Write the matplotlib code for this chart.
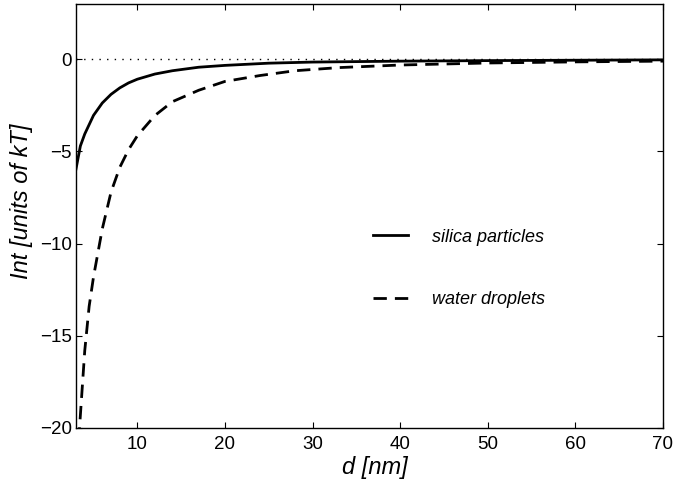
import matplotlib
matplotlib.use('Agg')
import matplotlib.pyplot as plt

# values
d_silica = [3, 3.5, 4, 5, 6, 7, 8, 9, 10, 12, 14, 17, 20, 25, 30, 40, 50, 60, 70]
int_silica = [-5.95, -4.7, -4.05, -3.04, -2.37, -1.9, -1.55, -1.28, -1.08, -0.8,
              -0.62, -0.43, -0.33, -0.21, -0.15, -0.1, -0.07, -0.05, -0.03]

d_water = [3, 3.4, 4, 4.5, 5, 6, 7, 8, 9, 10, 12, 14, 17, 20, 24, 28, 33, 40, 50, 60, 70]
int_water = [-23, -20, -15.8, -13.4, -11.8, -9.2, -7.2, -5.86, -4.9, -4.15, -3.05,
             -2.3, -1.68, -1.2, -0.88, -0.62, -0.45, -0.31, -0.2, -0.14, -0.1]

x_ticks = [10, 20, 30, 40, 50, 60, 70]
y_ticks = [-20, -15, -10, -5, 0]

plt.rcParams['font.family'] = ['Liberation Sans', 'DejaVu Sans']

fig = plt.figure(figsize=(6.74, 4.87), dpi=100)
ax = fig.add_axes([76 / 674, 59 / 487, 587 / 674, 424 / 487])

# zero reference line
ax.axhline(0, color='black', lw=1.0, linestyle=(0, (1, 4.5)))

ax.plot(d_silica, int_silica, color='black', lw=2, label='silica particles')
ax.plot(d_water, int_water, color='black', lw=2, linestyle=(0, (4.8, 2.9)),
        label='water droplets')

ax.set_xlim(3, 70)
ax.set_ylim(-20, 3)
ax.set_xticks(x_ticks)
ax.set_yticks(y_ticks)

ax.tick_params(direction='in', top=True, right=True, length=4.5, width=0.8,
               labelsize=13.5)
ax.tick_params(axis='x', pad=6)
ax.tick_params(axis='y', pad=3)
for s in ax.spines.values():
    s.set_linewidth(1.0)

ax.set_xlabel('d [nm]', fontsize=17, style='italic')
ax.set_ylabel('Int [units of kT]', fontsize=17, style='italic')
ax.xaxis.set_label_coords(0.51, -0.065)
ax.yaxis.set_label_coords(-0.073, 0.535)

ax.legend(loc='upper left', bbox_to_anchor=(0.506, 0.47), frameon=False,
          prop={'size': 13, 'style': 'italic'}, handlelength=1.95,
          handletextpad=1.3, labelspacing=2.5, borderpad=0, borderaxespad=0)

fig.savefig('out.png', dpi=100)
